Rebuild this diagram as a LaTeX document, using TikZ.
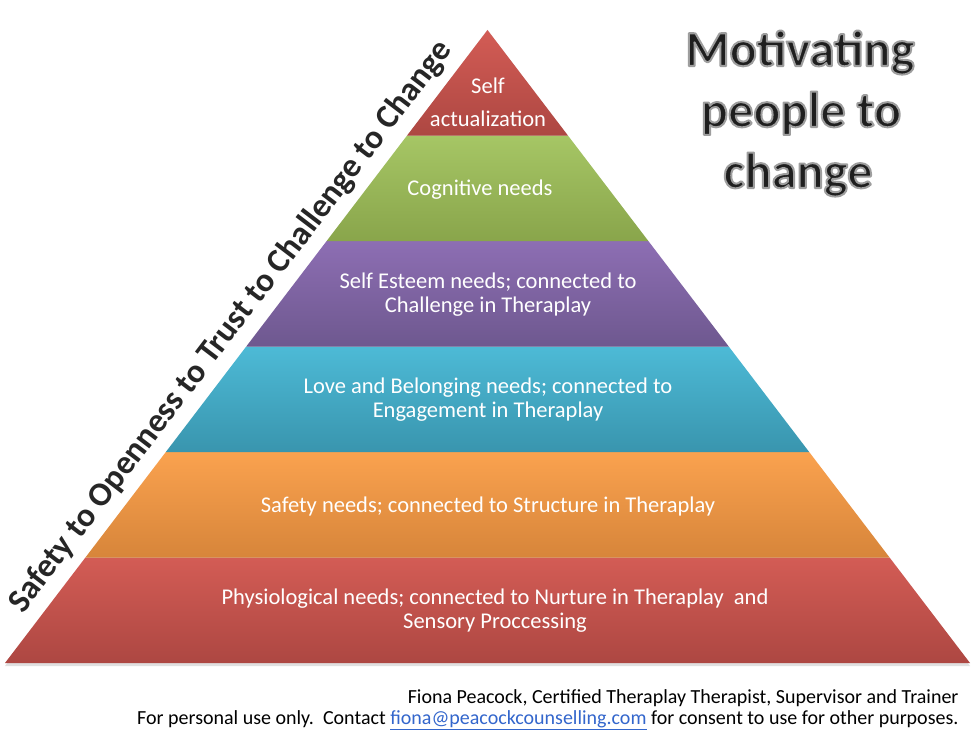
\documentclass[tikz,border=0pt]{standalone}
\usepackage{fontspec}
\setmainfont{Carlito}
\usetikzlibrary{calc}

\definecolor{redTop}{HTML}{D35C55}
\definecolor{redBot}{HTML}{AD4742}
\definecolor{greenTop}{HTML}{A6C665}
\definecolor{greenBot}{HTML}{89A54B}
\definecolor{purpleTop}{HTML}{8D6EB3}
\definecolor{purpleBot}{HTML}{6E588F}
\definecolor{aquaTop}{HTML}{4DBAD6}
\definecolor{aquaBot}{HTML}{3995AE}
\definecolor{orangeTop}{HTML}{FAA24F}
\definecolor{orangeBot}{HTML}{D7853A}
\definecolor{linkblue}{HTML}{3366CC}

% outlined title letters: fill dark, stroke grey
\newcommand{\outlined}[1]{\special{pdf:literal direct 2 Tr 2 w 1 j 0.62 0.62 0.62 RG}#1\special{pdf:literal direct 0 Tr 1 w 0 j}}

\tikzset{
  layer/.style={font=\fontsize{22.5}{24}\selectfont, text=white, align=center},
  title/.style={font=\fontsize{50.5}{60}\selectfont\bfseries, text=black!88, anchor=base},
  diag/.style={font=\fontsize{33.5}{40}\selectfont\bfseries, text=black!85, anchor=base, rotate=52.68},
  foot/.style={font=\fontsize{20}{22}\selectfont, anchor=base east},
}

\begin{document}
\begin{tikzpicture}[x=1pt,y=-1pt]
    \fill[white] (0,0) rectangle (977,733);
    \useasboundingbox (0,0) rectangle (977,733);

    \coordinate (BL) at (5,663);
    \coordinate (BR) at (970,663);
    \coordinate (apex) at (487.5,30);

    % soft shadow
    \fill[black!12] ([yshift=-3pt]BL) -- ([yshift=-3pt]BR) -- (apex) -- cycle;

    % the six layers, bottom to top
    \foreach \lo/\hi/\c in {0/1/red, 1/2/orange, 2/3/aqua, 3/4/purple, 4/5/green, 5/6/red}
        \shade[top color=\c Top, bottom color=\c Bot]
            ($(BL)!\lo/6!(apex)$) -- ($(BR)!\lo/6!(apex)$) --
            ($(BR)!\hi/6!(apex)$) -- ($(BL)!\hi/6!(apex)$) -- cycle;

    \node[layer] (selfact) at (488,102) {Self\\[9pt]actualization};
    \node[layer] (cognitive) at (480,190) {Cognitive needs};
    \node[layer] (esteem) at (488,295) {Self Esteem needs; connected to\\Challenge in Theraplay};
    \node[layer] (love) at (488,400) {Love and Belonging needs; connected to\\Engagement in Theraplay};
    \node[layer] (safety) at (488,506) {Safety needs; connected to Structure in Theraplay};
    \node[layer] (physio) at (495,611) {Physiological needs; connected to Nurture in Theraplay\ \ and\\Sensory Proccessing};

    \node[diag] (motto) at ($(BL)!0.508!(apex)!15pt!90:(apex)$) {Safety to Openness to Trust to Challenge to Change};

    \node[title] (title1) at (800,66) {\outlined{Motivating}};
    \node[title] (title2) at (801,127) {\outlined{people to}};
    \node[title] (title3) at (798,188) {\outlined{change}};

    \node[foot] (credit) at (962,703) {Fiona Peacock, Certified Theraplay Therapist, Supervisor and Trainer};
    \node[foot] (notice) at (962,724) {For personal use only.\ \ Contact \textcolor{linkblue}{\underline{fiona@peacockcounselling.com}} for consent to use for other purposes.};
\end{tikzpicture}
\end{document}
